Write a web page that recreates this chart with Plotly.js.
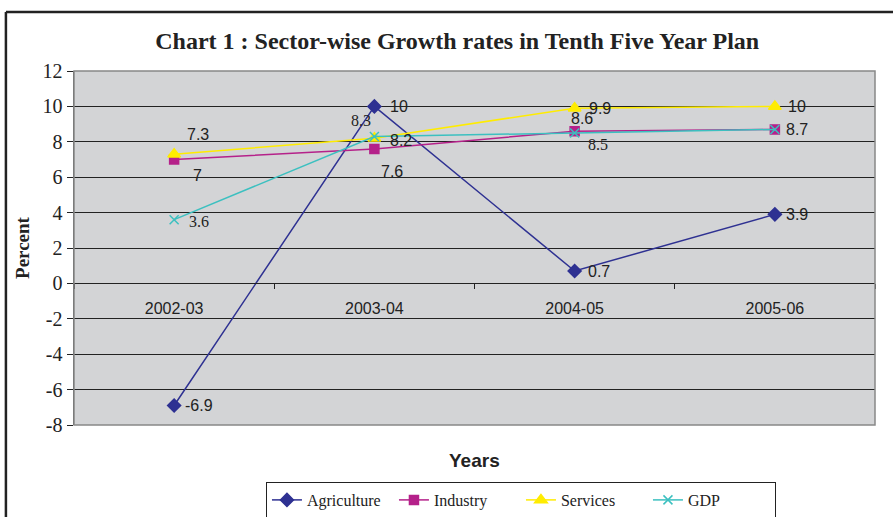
<!DOCTYPE html>
<html><head><meta charset="utf-8">
<script src="https://cdn.plot.ly/plotly-3.0.1.min.js"></script>
<style>body{margin:0;background:#fff}#c{width:893px;height:517px}</style>
</head><body><div id="c"></div>
<script>
const years = ["2002-03", "2003-04", "2004-05", "2005-06"];
const agriculture = [-6.9, 10, 0.7, 3.9];
const industry = [7, 7.6, 8.6, 8.7];
const services = [7.3, 8.2, 9.9, 10];
const gdp = [3.6, 8.3, 8.5, 8.7];
const yTicks = [-8, -6, -4, -2, 0, 2, 4, 6, 8, 10, 12];

const SANS = '"Liberation Sans", Arial, sans-serif';
const SERIF = '"Liberation Serif", "Times New Roman", serif';

const series = [
  {name: "Agriculture", y: agriculture, color: "#2e3192", symbol: "diamond", size: 10, font: SANS,
   off: [[25,0],[25,0],[24,0],[22,0]]},
  {name: "Industry", y: industry, color: "#b5218a", symbol: "square", size: 9, font: SANS,
   off: [[23,-16],[18,-23],[7,13],[22,0]]},
  {name: "Services", y: services, color: "#ffec00", symbol: "triangle-up", size: 11, font: SANS,
   off: [[24,20],[27,-2],[25,0],[22,0]]},
  {name: "GDP", y: gdp, color: "#3cc0c0", symbol: "x-thin", size: 9, font: SERIF,
   off: [[25,-2],[-13,16],[23,-12],[22,0]]}
];

const traces = series.map(s => ({
  type: "scatter", mode: "lines+markers", name: s.name, x: years, y: s.y,
  line: {color: s.color, width: 1.5},
  marker: {symbol: s.symbol, size: s.size, color: s.color, line: {color: s.color, width: 1.5}}
}));

// data labels; a label hidden under an identical one at the same point is drawn once
const annotations = [];
const seen = new Set();
series.forEach(s => {
  s.y.forEach((v, i) => {
    const key = years[i] + "|" + v;
    if (seen.has(key)) return;
    seen.add(key);
    annotations.push({x: years[i], y: v, xref: "x", yref: "y", text: String(v), showarrow: false,
      xanchor: "center", yanchor: "middle", xshift: s.off[i][0], yshift: s.off[i][1],
      font: {family: s.font, size: 16, color: "#222"}});
  });
});
annotations.push({x: 0.5, y: -0.1, xref: "paper", yref: "paper", text: "<b>Years</b>", showarrow: false,
  xanchor: "center", yanchor: "middle", yshift: 0, font: {family: SANS, size: 19, color: "#222"}});

const layout = {
  width: 893, height: 517,
  margin: {l: 74, r: 18, t: 71, b: 92, autoexpand: false},
  paper_bgcolor: "#ffffff", plot_bgcolor: "#d3d4d6",
  showlegend: true,
  title: {text: "<b>Chart 1 : Sector-wise Growth rates in Tenth Five Year Plan</b>",
    font: {family: SERIF, size: 24, color: "#222"},
    x: 0.512, xanchor: "center", y: 0.922, yanchor: "middle"},
  xaxis: {type: "category", categoryarray: years, range: [-0.5, 3.5], anchor: "free", position: 0.4,
    showline: true, linecolor: "#222", linewidth: 1, ticks: "outside", tickson: "boundaries", ticklen: 5, tickcolor: "#222",
    showgrid: false, zeroline: false, ticklabelstandoff: 10,
    tickfont: {family: SANS, size: 16, color: "#222"}},
  yaxis: {range: [-8, 12], tickvals: yTicks, ticktext: yTicks.map(String), showgrid: true, gridcolor: "#222", gridwidth: 1,
    zeroline: false, showline: true, linecolor: "#555", linewidth: 1.5, ticks: "outside", ticklen: 6, tickcolor: "#222",
    tickfont: {family: SERIF, size: 20, color: "#222"},
    title: {text: "<b>Percent</b>", font: {family: SERIF, size: 19, color: "#222"}, standoff: 8}},
  legend: {orientation: "h", x: 0.558, xanchor: "center", y: -0.161, yanchor: "top",
    bordercolor: "#222", borderwidth: 1, bgcolor: "#fff", entrywidth: 82,
    font: {family: SERIF, size: 16, color: "#222"}},
  annotations: annotations,
  shapes: [
    {type: "rect", xref: "paper", yref: "paper", x0: 0, x1: 1, y0: 0, y1: 1, line: {color: "#888", width: 1.5}},
    {type: "line", xref: "paper", yref: "paper", x0: -0.085, x1: -0.085, y0: 1.167, y1: -0.3, line: {color: "#222", width: 2.5}},
    {type: "line", xref: "paper", yref: "paper", x0: -0.085, x1: 1.05, y0: 1.167, y1: 1.167, line: {color: "#222", width: 2.5}}
  ]
};

Plotly.newPlot("c", traces, layout, {displayModeBar: false, staticPlot: true});
</script></body></html>
